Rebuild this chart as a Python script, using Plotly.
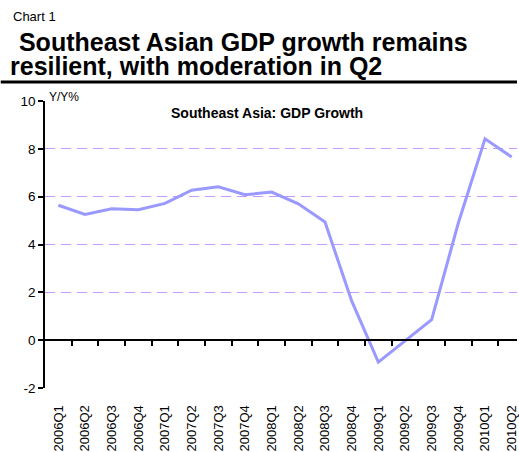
import plotly.graph_objects as go

quarters = ["2006Q1", "2006Q2", "2006Q3", "2006Q4", "2007Q1", "2007Q2", "2007Q3", "2007Q4",
            "2008Q1", "2008Q2", "2008Q3", "2008Q4", "2009Q1", "2009Q2", "2009Q3", "2009Q4",
            "2010Q1", "2010Q2"]
gdp_growth = [5.64, 5.26, 5.49, 5.45, 5.72, 6.27, 6.41, 6.08,
              6.19, 5.70, 4.94, 1.64, -0.92, -0.04, 0.86, 4.90,
              8.42, 7.66]
y_ticks = [-2, 0, 2, 4, 6, 8, 10]
y_tick_labels = ["-2", "0", "2", "4", "6", "8", "10"]

W, H = 519, 452
L, R, T, B = 44.5, 0, 100.5, 63.5
PW, PH = W - L - R, H - T - B

def px_x(px):
    return (px - L) / PW

def px_y(py):
    return (H - B - py) / PH

FONT = "Liberation Sans, Arial, sans-serif"
idx = list(range(len(quarters)))

fig = go.Figure()
fig.add_trace(go.Scatter(x=idx, y=gdp_growth, mode="lines",
                         line=dict(color="#9999FF", width=3), showlegend=False,
                         hoverinfo="skip"))
# invisible trace to host the zero-line axis
fig.add_trace(go.Scatter(x=[0], y=[0], xaxis="x2", mode="markers",
                         marker=dict(opacity=0), showlegend=False, hoverinfo="skip"))

xr = [-0.5, 17.2]
fig.update_layout(
    width=W, height=H,
    margin=dict(l=L, r=R, t=T, b=B, pad=0),
    paper_bgcolor="white", plot_bgcolor="white",
    font=dict(family=FONT, color="black", size=13),
    xaxis=dict(range=xr, tickmode="array", tickvals=idx, ticktext=quarters,
               tickangle=-90, showgrid=False, showline=False, zeroline=False,
               ticks="outside", ticklen=11, tickcolor="rgba(0,0,0,0)",
               ticklabeloverflow="allow",
               tickfont=dict(size=13, family=FONT)),
    xaxis2=dict(range=xr, overlaying="x", anchor="free", position=1/6,
                tickmode="array", tickvals=[i + 0.5 for i in idx[:-1]],
                showticklabels=False, ticks="outside", ticklen=5, tickcolor="black",
                tickwidth=1.5, showline=True, linecolor="black", linewidth=1.5,
                showgrid=False, zeroline=False),
    yaxis=dict(range=[-2, 10], tickmode="array", tickvals=y_ticks, ticktext=y_tick_labels,
               showgrid=True, gridcolor="#C699FF", gridwidth=1, griddash="10px,6px",
               zeroline=False, showline=True, linecolor="black", linewidth=1.5,
               ticks="outside", ticklen=5, tickcolor="black", tickwidth=1.5,
               tickfont=dict(size=13.5, family=FONT)),
)

fig.add_shape(type="line", xref="paper", yref="paper",
              x0=px_x(0), x1=px_x(W), y0=px_y(81.5), y1=px_y(81.5),
              line=dict(color="black", width=3))

fig.add_annotation(text="Chart 1", xref="paper", yref="paper",
                   x=px_x(10), y=px_y(16), xanchor="left", yanchor="middle",
                   showarrow=False, font=dict(size=13, family=FONT))
fig.add_annotation(text="<b> Southeast Asian GDP growth remains</b>", xref="paper", yref="paper",
                   x=px_x(9), y=px_y(41), xanchor="left", yanchor="middle",
                   showarrow=False, font=dict(size=25, family=FONT))
fig.add_annotation(text="<b>resilient, with moderation in Q2</b>", xref="paper", yref="paper",
                   x=px_x(7), y=px_y(65.5), xanchor="left", yanchor="middle",
                   showarrow=False, font=dict(size=25, family=FONT))
fig.add_annotation(text="Y/Y%", xref="paper", yref="paper",
                   x=px_x(48), y=px_y(96), xanchor="left", yanchor="middle",
                   showarrow=False, bgcolor="white", borderpad=0,
                   font=dict(size=12, family=FONT))
fig.add_annotation(text="<b>Southeast Asia: GDP Growth</b>", xref="paper", yref="paper",
                   x=px_x(268), y=px_y(113), xanchor="center", yanchor="middle",
                   showarrow=False, font=dict(size=14, family=FONT))

fig.write_html("out.html")
